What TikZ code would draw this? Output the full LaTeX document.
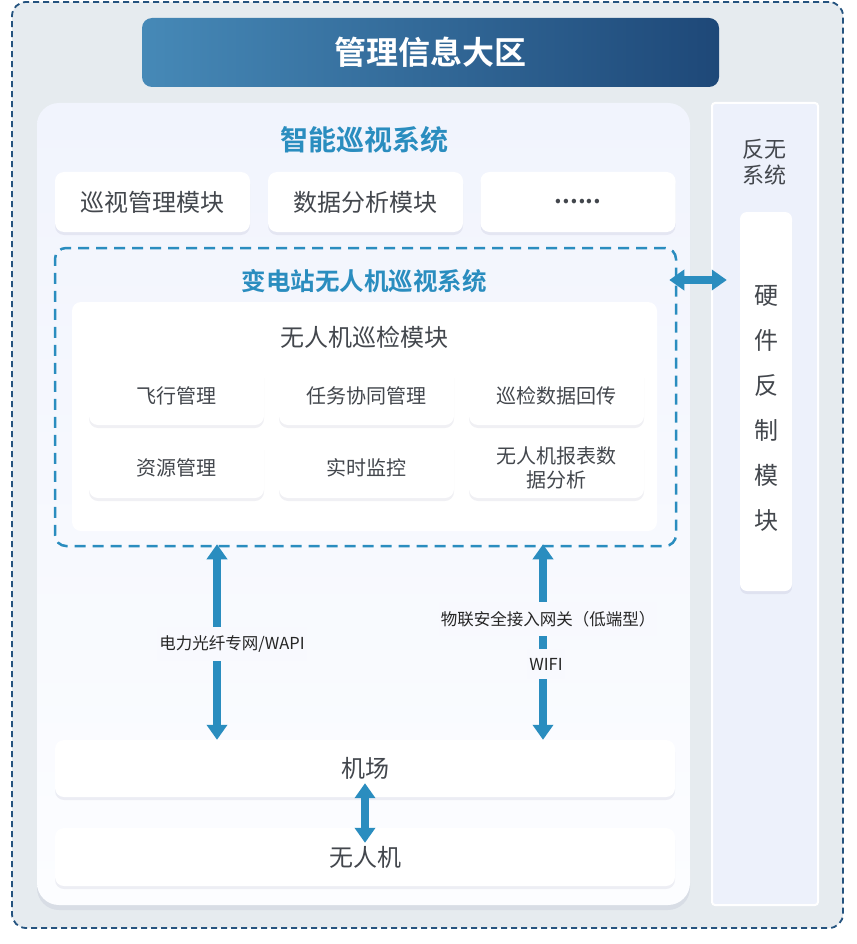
\documentclass[tikz,border=0pt]{standalone}
\usepackage{fontspec}
\setmainfont{Noto Sans CJK SC}[BoldFont=* Bold]
\usetikzlibrary{arrows.meta,shadows,calc}
\definecolor{outerbg}{HTML}{E6EBEF}
\definecolor{outerln}{HTML}{24537F}
\definecolor{gradL}{HTML}{4689B7}
\definecolor{gradR}{HTML}{1E4878}
\definecolor{accent}{HTML}{2A8DBF}
\definecolor{txt}{HTML}{43474D}
\definecolor{sidebg}{HTML}{EDF1FB}
\definecolor{panelT}{HTML}{F1F4FD}
\definecolor{panelB}{HTML}{FCFDFF}
\definecolor{lblbg}{HTML}{F8F9FE}
\newcommand{\fs}[1]{\fontsize{#1}{#1}\selectfont}
\tikzset{
  box/.style={inner sep=0pt, anchor=center},
  softshadow/.style={drop shadow={shadow xshift=0pt, shadow yshift=-3pt, fill=black!70!blue, opacity=0.06}},
  panelshadow/.style={drop shadow={shadow xshift=0pt, shadow yshift=-5pt, fill=black!70!blue, opacity=0.06}},
  outerbox/.style={box, draw=outerln, line width=1.8pt, dash pattern=on 6pt off 4pt, fill=outerbg, rounded corners=14pt},
  titlebar/.style={box, left color=gradL, right color=gradR, rounded corners=10pt, text=white, font=\fs{32}\bfseries},
  panel/.style={box, top color=panelT, bottom color=panelB, rounded corners=22pt, panelshadow},
  sidecol/.style={box, fill=sidebg, draw=white, line width=2pt, rounded corners=3pt},
  modbox/.style={box, fill=white, rounded corners=9pt, softshadow, text=txt, font=\fs{24}},
  cell/.style={box, fill=white, rounded corners=9pt, softshadow, text=txt, font=\fs{20}, align=center},
  wide/.style={box, fill=white, rounded corners=9pt, softshadow, text=txt, font=\fs{24}},
  sysdash/.style={box, draw=accent, line width=2.5pt, dash pattern=on 11pt off 7pt, rounded corners=11pt},
  bluetitle/.style={text=accent, font=\bfseries},
  plain/.style={text=txt},
  bigarrow/.style={draw=accent, line width=8pt, {Triangle[width=20pt,length=15pt]}-{Triangle[width=20pt,length=15pt]}},
  arrlabel/.style={fill=lblbg, inner xsep=2pt, inner ysep=9pt, text=black!85, font=\fs{16.5}},
}
\begin{document}
\begin{tikzpicture}[x=1pt,y=-1pt]
\useasboundingbox (0,0) rectangle (856,944);
\node[outerbox, minimum width=831pt, minimum height=926pt] (outer) at (427.5,465) {};
\node[titlebar, minimum width=577pt, minimum height=69pt] (title) at (430.5,52.5) {管理信息大区};
\node[panel, minimum width=653pt, minimum height=802pt] (panel) at (363.5,504) {};
\node[sidecol, minimum width=106pt, minimum height=802pt] (side) at (765,504) {};

\node[bluetitle, font=\fs{28}\bfseries] (ttl) at (364,140) {智能巡视系统};
\node[modbox, minimum width=195pt, minimum height=60pt] (m1) at (152.5,202) {巡视管理模块};
\node[modbox, minimum width=195pt, minimum height=60pt] (m2) at (365.5,202) {数据分析模块};
\node[modbox, minimum width=195pt, minimum height=60pt] (m3) at (578,202) {\raisebox{-4pt}{\textbf{......}}};

\node[sysdash, minimum width=621pt, minimum height=298pt] (sys) at (365.5,397) {};
\node[bluetitle, font=\fs{24.5}\bfseries] (systtl) at (364,281) {变电站无人机巡视系统};
\node[box, fill=white, rounded corners=9pt, minimum width=585pt, minimum height=229pt] (inner) at (364.5,416.5) {};
\node[plain, font=\fs{24}] (innttl) at (364,337) {无人机巡检模块};

\node[cell, minimum width=175pt, minimum height=59pt] (c11) at (176.5,395.5) {飞行管理};
\node[cell, minimum width=175pt, minimum height=59pt] (c12) at (366.5,395.5) {任务协同管理};
\node[cell, minimum width=175pt, minimum height=59pt] (c13) at (556.5,395.5) {巡检数据回传};
\node[cell, minimum width=175pt, minimum height=60pt] (c21) at (176.5,468) {资源管理};
\node[cell, minimum width=175pt, minimum height=60pt] (c22) at (366.5,468) {实时监控};
\node[cell, minimum width=175pt, minimum height=60pt, font=\fontsize{20}{24}\selectfont] (c23) at (556.5,468) {无人机报表数\\据分析};

\node[plain, font=\fontsize{22}{26}\selectfont, align=center] (sidettl) at (764,162) {反无\\系统};
\node[box, fill=white, rounded corners=7pt, softshadow, minimum width=52pt, minimum height=379pt] (hw) at (766,401.5) {};
\node[plain, font=\fontsize{24}{45}\selectfont, align=center] (hwtxt) at (766,408) {硬\\件\\反\\制\\模\\块};

\node[wide, minimum width=620pt, minimum height=57pt] (airport) at (365,768.5) {机场};
\node[wide, minimum width=620pt, minimum height=58pt] (drone) at (365,857) {无人机};

\coordinate (aL) at (217,0);
\coordinate (aR) at (543,0);
\coordinate (aH) at (0,280);

\draw[bigarrow, shorten <=-8pt, shorten >=13pt] (sys.east |- aH) -- (hw.west |- aH);
\draw[bigarrow, shorten <=-3pt] (aL |- sys.south) -- (aL |- airport.north);
\draw[bigarrow, shorten <=-3pt] (aR |- sys.south) -- (aR |- airport.north);
\draw[bigarrow, shorten <=-14pt, shorten >=-15pt] (airport.south -| drone.north) -- (drone.north);

\node[arrlabel] (lblL) at (232,644) {电力光纤专网/WAPI};
\node[arrlabel] (lblR1) at (548,619) {物联安全接入网关（低端型）};
\node[arrlabel] (lblR2) at (546,664) {WIFI};
\end{tikzpicture}
\end{document}
